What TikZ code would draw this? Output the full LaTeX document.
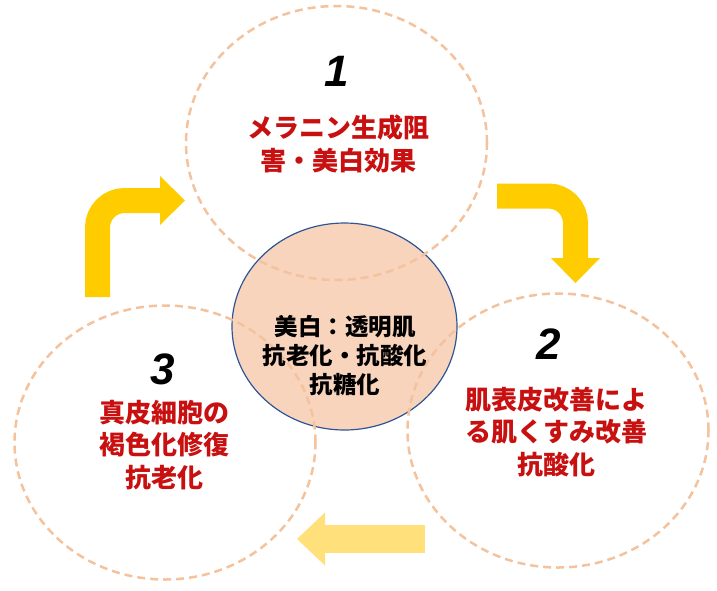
\documentclass[tikz,border=0pt]{standalone}
\usepackage{fontspec}
\newfontfamily\jpfont{Noto Sans CJK JP}
\newfontfamily\numfont{Liberation Sans}
\usetikzlibrary{shapes.geometric,arrows.meta}
\definecolor{ringc}{RGB}{244,194,156}
\definecolor{peach}{RGB}{248,212,188}
\definecolor{navy}{RGB}{47,85,151}
\definecolor{redc}{RGB}{200,16,16}
\definecolor{gold}{RGB}{255,204,0}
\definecolor{pale}{RGB}{255,224,122}
\tikzset{
  ring/.style={ellipse, draw=ringc, line width=2.5pt, dash pattern=on 8pt off 5pt,
    minimum width=301pt, minimum height=274pt, inner sep=0pt},
  core/.style={ellipse, fill=peach, draw=navy, line width=1.2pt,
    minimum width=225pt, minimum height=207pt, inner sep=0pt},
  numtxt/.style={font=\numfont\bfseries\itshape\fontsize{44}{44}\selectfont},
  lbl/.style={text=redc, align=center, font=\jpfont\bfseries\fontsize{26}{32.5}\selectfont},
  corelbl/.style={align=center, font=\jpfont\bfseries\fontsize{23.5}{29}\selectfont},
  bentarrow/.style={draw=gold, line width=25pt, rounded corners=27pt,
    -{Triangle[width=49pt, length=25pt, line width=0pt]}},
}
\begin{document}
\begin{tikzpicture}[x=1pt, y=-1pt]
\useasboundingbox (0, 0) rectangle (717, 590);
\node[core]  at (344.5, 326.5) (c) {};
\node[ring]  at (336.5, 143) (r1) {};
\node[ring]  at (558, 430.5) (r2) {};
\node[ring]  at (165, 442.5) (r3) {};
\node[numtxt]  at (337, 71) (n1) {1};
\node[numtxt]  at (549, 344) (n2) {2};
\node[numtxt]  at (163, 369) (n3) {3};
\node[lbl]  at (338, 144) (t1) {メラニン生成阻\\害・美白効果};
\node[lbl]  at (556, 432) (t2) {肌表皮改善によ\\る肌くすみ改善\\抗酸化};
\node[lbl]  at (164, 445) (t3) {真皮細胞の\\褐色化修復\\抗老化};
\node[corelbl]  at (345, 356) (ct) {美白：透明肌\\抗老化・抗酸化\\抗糖化};
\coordinate (a1s) at (97.5, 297);
\coordinate (a1e) at (185, 200.5);
\coordinate (a2s) at (497, 196);
\coordinate (a2e) at (575.5, 283);
\coordinate (a3s) at (425, 539);
\coordinate (a3e) at (297, 539);
\draw[bentarrow] (a1s) |- (a1e);
\draw[bentarrow] (a2s) -| (a2e);
\draw[bentarrow, draw=pale, line width=28pt, -{Triangle[width=53pt, length=28pt, line width=0pt]}] (a3s) -- (a3e);
\end{tikzpicture}
\end{document}
